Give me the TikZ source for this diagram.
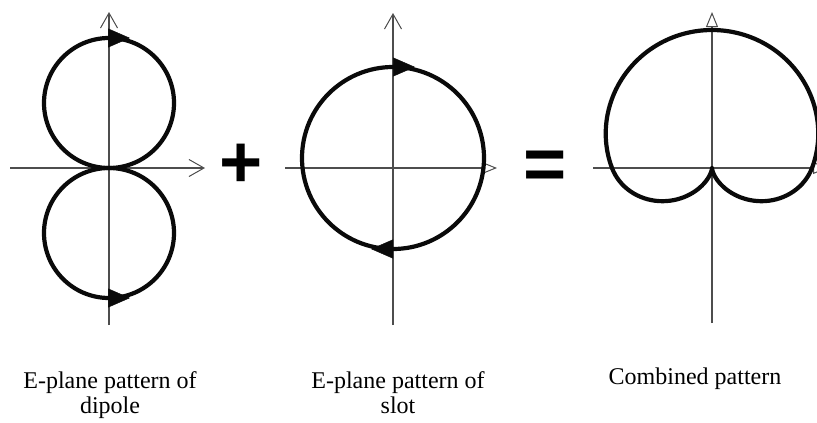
\documentclass[tikz,border=0pt]{standalone}
\usepackage{fontspec}
\setmainfont{Liberation Serif}
\setsansfont{Liberation Sans}
\usepackage{tikz}
\usetikzlibrary{arrows.meta,positioning,calc}
\definecolor{ink}{HTML}{0A0A0A}
\definecolor{axisgrey}{HTML}{4D4D4D}
\tikzset{
  axis/.style={draw=axisgrey, line width=1.2pt},
  vtip/.style={axis, -{Straight Barb[length=15pt,width=17pt,line width=1pt]}},
  ttip/.style={axis, -{Triangle[open,length=15pt,width=12pt,line width=1pt]}},
  lobe/.style={draw=ink, line width=4.2pt, line join=round},
  dirtip/.style={-{Triangle[length=22pt,width=19pt]}, draw=ink, line width=0.5pt},
  caption/.style={font=\fontsize{24}{25}\selectfont, align=center, inner sep=0pt, anchor=north},
  opsign/.style={font=\sffamily\bfseries\fontsize{74}{74}\selectfont, inner sep=0pt}
}
\begin{document}
\begin{tikzpicture}[x=1pt,y=1pt]
  \useasboundingbox (0,0) rectangle (817,-423);
  \coordinate (o1) at (109,-168);
  \coordinate (o2) at (393,-168);
  \coordinate (o3) at (712,-168);
  \draw[vtip] ([xshift=-99pt]o1) -- ([xshift=96pt]o1);
  \draw[vtip] ([yshift=-157pt]o1) -- ([yshift=156pt]o1);
  \draw[lobe] ([yshift=65pt]o1) circle[radius=65];
  \draw[lobe] ([yshift=-65pt]o1) circle[radius=65];
  \draw[dirtip] ([yshift=130pt]o1) -- ++(21,0);
  \draw[dirtip] ([yshift=-130pt]o1) -- ++(21,0);
  \draw[ttip] ([xshift=-108pt]o2) -- ([xshift=104pt]o2);
  \draw[vtip] ([yshift=-157pt]o2) -- ([yshift=155pt]o2);
  \draw[lobe] ([yshift=10pt]o2) circle[radius=91];
  \draw[dirtip] ([yshift=101pt]o2) -- ++(22,0);
  \draw[dirtip] ([yshift=-81pt]o2) -- ++(-22,0);
  \draw[ttip] ([xshift=-119pt]o3) -- ([xshift=116pt]o3);
  \draw[ttip] ([yshift=-155pt]o3) -- ([yshift=156pt]o3);
  \draw[lobe, shift={(o3)}] plot[domain=0:180, samples=61, smooth] (\x:{100+38*sin(\x)})
    -- plot[domain=180:360, samples=91, smooth] (\x:{100*(1+sin(\x))*(1-0.62*sin(\x))}) -- cycle;
  \node[opsign] (plus) at (241,-166) {+};
  \node[opsign] (equals) at (545,-170) {=};
  \node[caption] (dipole) at (110,-371) {E-plane pattern of\\dipole};
  \node[caption] (slot) at (398,-371) {E-plane pattern of\\slot};
  \node[caption] (combined) at (695,-368) {Combined pattern};
\end{tikzpicture}
\end{document}
